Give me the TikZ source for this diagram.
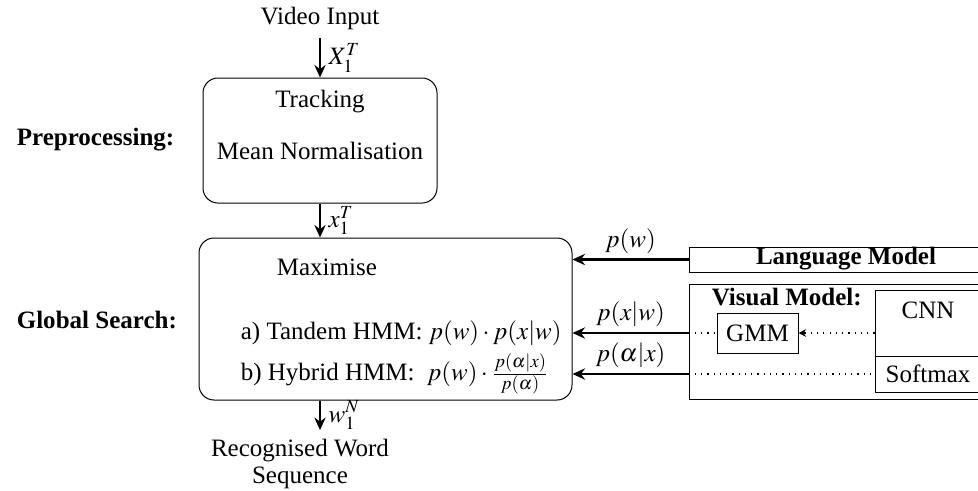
\documentclass[tikz,border=0pt]{standalone}
\usepackage{mathptmx}
\usepackage{fontspec}
\setmainfont{Liberation Serif}
\usetikzlibrary{arrows.meta,fit}

\tikzset{
  stagebox/.style={draw,rounded corners=6pt,inner sep=0pt},
  modelbox/.style={draw,inner sep=0pt},
  flow/.style={-{Stealth[length=5pt,width=4.5pt]},line width=0.9pt},
  feed/.style={dotted,line width=0.5pt},
}

\begin{document}
\begin{tikzpicture}[x=0.01406cm,y=-0.01406cm,font=\fontsize{10}{11}\selectfont]
\useasboundingbox (0,0) rectangle (978,490);
\clip (0,0) rectangle (978,490);

% left column
\node (input) at (320,18) {Video Input};
\node[stagebox,fit={(203,78) (437,203)}] (pre) {};
\node (track) at (320,102) {Tracking};
\node (mean) at (320,151) {Mean Normalisation};
\node[stagebox,fit={(199,238) (572,400)}] (search) {};
\node[anchor=west] (maxi) at (268,267) {Maximise};
\node[anchor=west] (tandem) at (232,333) {a) Tandem HMM: $p(w)\cdot p(x|w)$};
\node[anchor=west] (hybrid) at (232,374) {b) Hybrid HMM:\ \ $p(w)\cdot\frac{p(\alpha|x)}{p(\alpha)}$};
\node[align=center] (out) at (300,464) {Recognised Word\\Sequence};

\node[anchor=west,font=\bfseries] (prelabel) at (8,140) {Preprocessing:};
\node[anchor=west,font=\bfseries] (searchlabel) at (8,320) {Global Search:};

% right column
\node[modelbox,fit={(689,247) (1003,272)}] (lm) {};
\node[font=\bfseries] (lmtext) at (846,259) {Language Model};
\node[modelbox,fit={(689,284) (1003,399)}] (vm) {};
\node[anchor=west,font=\bfseries] (vmtitle) at (703,297) {Visual Model:};
\node[modelbox,fit={(875,290) (981,356)}] (cnn) {};
\node (cnntext) at (928,310) {CNN};
\node[modelbox,fit={(875,356) (981,392)}] (softmax) {};
\node (softtext) at (928,374) {Softmax};
\node[modelbox,fit={(717,313) (798,353)}] (gmm) {};
\node (gmmtext) at (gmm.center) {GMM};

% connectors
\draw[flow] (input) -- (pre) node[midway,right,inner sep=3pt] {$X_1^T$};
\draw[flow] (pre.south) -- (pre.south |- search.north) node[midway,right,inner sep=3pt] {$x_1^T$};
\draw[flow] (search.south -| pre.south) -- (pre.south |- out.north) node[midway,right,inner sep=3pt] {$w_1^N$};

\draw[flow] (lm.west) -- (lm.west -| search.east) node[midway,above,inner sep=2pt] {$p(w)$};
\draw[flow] (gmm.west -| vm.west) -- (gmm.west -| search.east) node[midway,above,inner sep=2pt] {$p(x|w)$};
\draw[flow] (softmax.west -| vm.west) -- (softmax.west -| search.east) node[midway,above,inner sep=2pt] {$p(\alpha|x)$};
\draw[feed] (gmm.west -| vm.west) -- (gmm.west);
\draw[feed,-{Stealth[length=3pt,width=3pt]}] (gmm.east -| cnn.west) -- (gmm.east);
\draw[feed] (softmax.west -| vm.west) -- (softmax.west);
\end{tikzpicture}
\end{document}
